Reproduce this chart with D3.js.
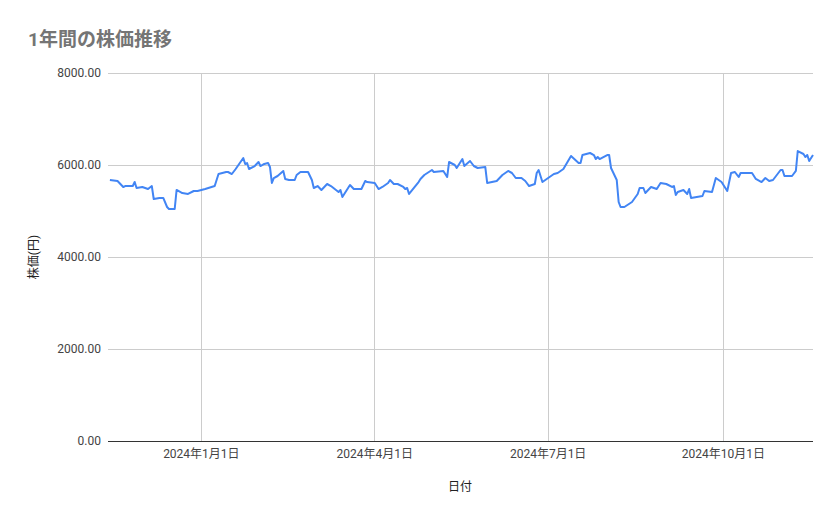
<!DOCTYPE html>
<html>
<head>
<meta charset="utf-8">
<script src="https://cdn.jsdelivr.net/npm/d3@7"></script>
<style>
  body { margin: 0; background: #fff; }
  text { font-family: Roboto, "Noto Sans CJK JP", sans-serif; }
</style>
</head>
<body>
<svg id="chart" width="839" height="519"></svg>
<script>
const dates = [
  '2023-11-14','2023-11-18','2023-11-19','2023-11-21','2023-11-22','2023-11-26','2023-11-27','2023-11-28',
  '2023-12-01','2023-12-04','2023-12-06','2023-12-07','2023-12-10','2023-12-12','2023-12-14','2023-12-15',
  '2023-12-18','2023-12-19','2023-12-22','2023-12-25','2023-12-28','2023-12-30',
  '2024-01-03','2024-01-08','2024-01-10','2024-01-14','2024-01-15','2024-01-17','2024-01-19','2024-01-23',
  '2024-01-24','2024-01-25','2024-01-26','2024-01-29','2024-01-31',
  '2024-02-01','2024-02-03','2024-02-05','2024-02-06','2024-02-07','2024-02-08','2024-02-10','2024-02-13',
  '2024-02-14','2024-02-16','2024-02-19','2024-02-20','2024-02-22','2024-02-26','2024-02-28','2024-02-29',
  '2024-03-02','2024-03-04','2024-03-07','2024-03-09','2024-03-13','2024-03-14','2024-03-15','2024-03-19',
  '2024-03-21','2024-03-25','2024-03-27','2024-03-28',
  '2024-04-01','2024-04-03','2024-04-05','2024-04-08','2024-04-09','2024-04-11','2024-04-13','2024-04-16',
  '2024-04-17','2024-04-18','2024-04-19','2024-04-24','2024-04-25','2024-04-27',
  '2024-05-01','2024-05-02','2024-05-07','2024-05-09','2024-05-10','2024-05-13','2024-05-14','2024-05-17',
  '2024-05-18','2024-05-21','2024-05-23','2024-05-25','2024-05-29','2024-05-30',
  '2024-06-04','2024-06-07','2024-06-10','2024-06-12','2024-06-14','2024-06-17','2024-06-19','2024-06-21',
  '2024-06-24','2024-06-25','2024-06-26','2024-06-28',
  '2024-07-04','2024-07-06','2024-07-09','2024-07-13','2024-07-17','2024-07-18','2024-07-19','2024-07-23',
  '2024-07-25','2024-07-26','2024-07-27','2024-07-28',
  '2024-08-01','2024-08-02','2024-08-03','2024-08-06','2024-08-07','2024-08-08','2024-08-10','2024-08-14',
  '2024-08-17','2024-08-18','2024-08-20','2024-08-21','2024-08-24','2024-08-27','2024-08-29',
  '2024-09-01','2024-09-04','2024-09-05','2024-09-06','2024-09-07','2024-09-10','2024-09-12','2024-09-13',
  '2024-09-14','2024-09-17','2024-09-20','2024-09-21','2024-09-25','2024-09-27','2024-09-30',
  '2024-10-03','2024-10-05','2024-10-07','2024-10-09','2024-10-10','2024-10-16','2024-10-18','2024-10-21',
  '2024-10-23','2024-10-25','2024-10-27','2024-10-31',
  '2024-11-01','2024-11-02','2024-11-06','2024-11-08','2024-11-09','2024-11-12','2024-11-13','2024-11-14',
  '2024-11-15','2024-11-17'
];
const prices = [
  5674,5652,5609,5522,5543,5543,5630,5500,
  5522,5478,5543,5261,5283,5283,5087,5043,
  5043,5457,5391,5370,5435,5435,
  5478,5543,5804,5848,5848,5804,5913,6152,
  6022,6043,5913,5978,6065,
  5978,6022,6043,5957,5609,5717,5761,5870,
  5696,5674,5674,5783,5848,5848,5674,5500,
  5543,5457,5587,5543,5413,5457,5304,5565,
  5478,5478,5652,5630,
  5609,5478,5522,5609,5674,5587,5587,5522,
  5478,5500,5370,5630,5696,5783,
  5891,5848,5870,5739,6065,6000,5935,6130,
  5978,6087,5978,5935,5957,5609,
  5652,5783,5870,5826,5717,5717,5652,5543,
  5587,5826,5891,5630,
  5804,5826,5913,6196,6043,6043,6217,6261,
  6217,6130,6174,6130,
  6217,6217,5935,5674,5196,5087,5087,5196,
  5370,5500,5500,5391,5522,5478,5609,
  5587,5522,5543,5348,5413,5457,5370,5478,
  5283,5304,5326,5435,5413,5717,5630,
  5435,5826,5848,5739,5826,5826,5696,5630,
  5717,5652,5674,5891,
  5891,5761,5761,5870,6304,6239,6174,6217,
  6087,6217
];
const yTicks = [0, 2000, 4000, 6000, 8000];
const xTicks = ['2024-01-01', '2024-04-01', '2024-07-01', '2024-10-01'];
const xTickLabels = ['2024年1月1日', '2024年4月1日', '2024年7月1日', '2024年10月1日'];

const parse = d3.timeParse('%Y-%m-%d');
const data = dates.map((d, i) => ({ date: parse(d), value: prices[i] }));

const margin = { top: 73, right: 26, bottom: 78, left: 108 };
const width = 839, height = 519;
const svg = d3.select('#chart');

const x = d3.scaleTime()
  .domain([parse('2023-11-13'), parse('2024-11-17')])
  .range([margin.left, width - margin.right]);
const y = d3.scaleLinear()
  .domain([0, 8000])
  .range([height - margin.bottom, margin.top]);

// grid
svg.append('g').selectAll('line').data(yTicks).join('line')
  .attr('x1', margin.left).attr('x2', width - margin.right)
  .attr('y1', d => y(d)).attr('y2', d => y(d))
  .attr('stroke', d => d === 0 ? '#333' : '#ccc').attr('stroke-width', 1)
  .attr('shape-rendering', 'crispEdges');
svg.append('g').selectAll('line').data(xTicks).join('line')
  .attr('x1', d => x(parse(d))).attr('x2', d => x(parse(d)))
  .attr('y1', margin.top).attr('y2', y(0))
  .attr('stroke', '#ccc').attr('shape-rendering', 'crispEdges');

// y axis labels
svg.append('g').selectAll('text').data(yTicks).join('text')
  .attr('x', margin.left - 7).attr('y', d => y(d) + 4)
  .attr('text-anchor', 'end').attr('font-size', 12).attr('fill', '#444')
  .text(d => d3.format('.2f')(d));

// x axis labels
svg.append('g').selectAll('text').data(xTicks).join('text')
  .attr('x', d => x(parse(d))).attr('y', y(0) + 17)
  .attr('text-anchor', 'middle').attr('font-size', 12).attr('fill', '#444')
  .text((d, i) => xTickLabels[i]);

// line
svg.append('path').datum(data)
  .attr('fill', 'none').attr('stroke', '#4285F4').attr('stroke-width', 2)
  .attr('stroke-linejoin', 'round')
  .attr('d', d3.line().x(d => x(d.date)).y(d => y(d.value)));

// titles
svg.append('text').attr('x', 28).attr('y', 46)
  .attr('font-size', 19).attr('font-weight', 'bold').attr('fill', '#757575')
  .text('1年間の株価推移');
svg.append('text').attr('transform', 'translate(38,257) rotate(-90)')
  .attr('text-anchor', 'middle').attr('font-size', 12).attr('fill', '#222')
  .text('株価(円)');
svg.append('text').attr('x', 460).attr('y', 491)
  .attr('text-anchor', 'middle').attr('font-size', 12).attr('fill', '#222')
  .text('日付');
</script>
</body>
</html>
